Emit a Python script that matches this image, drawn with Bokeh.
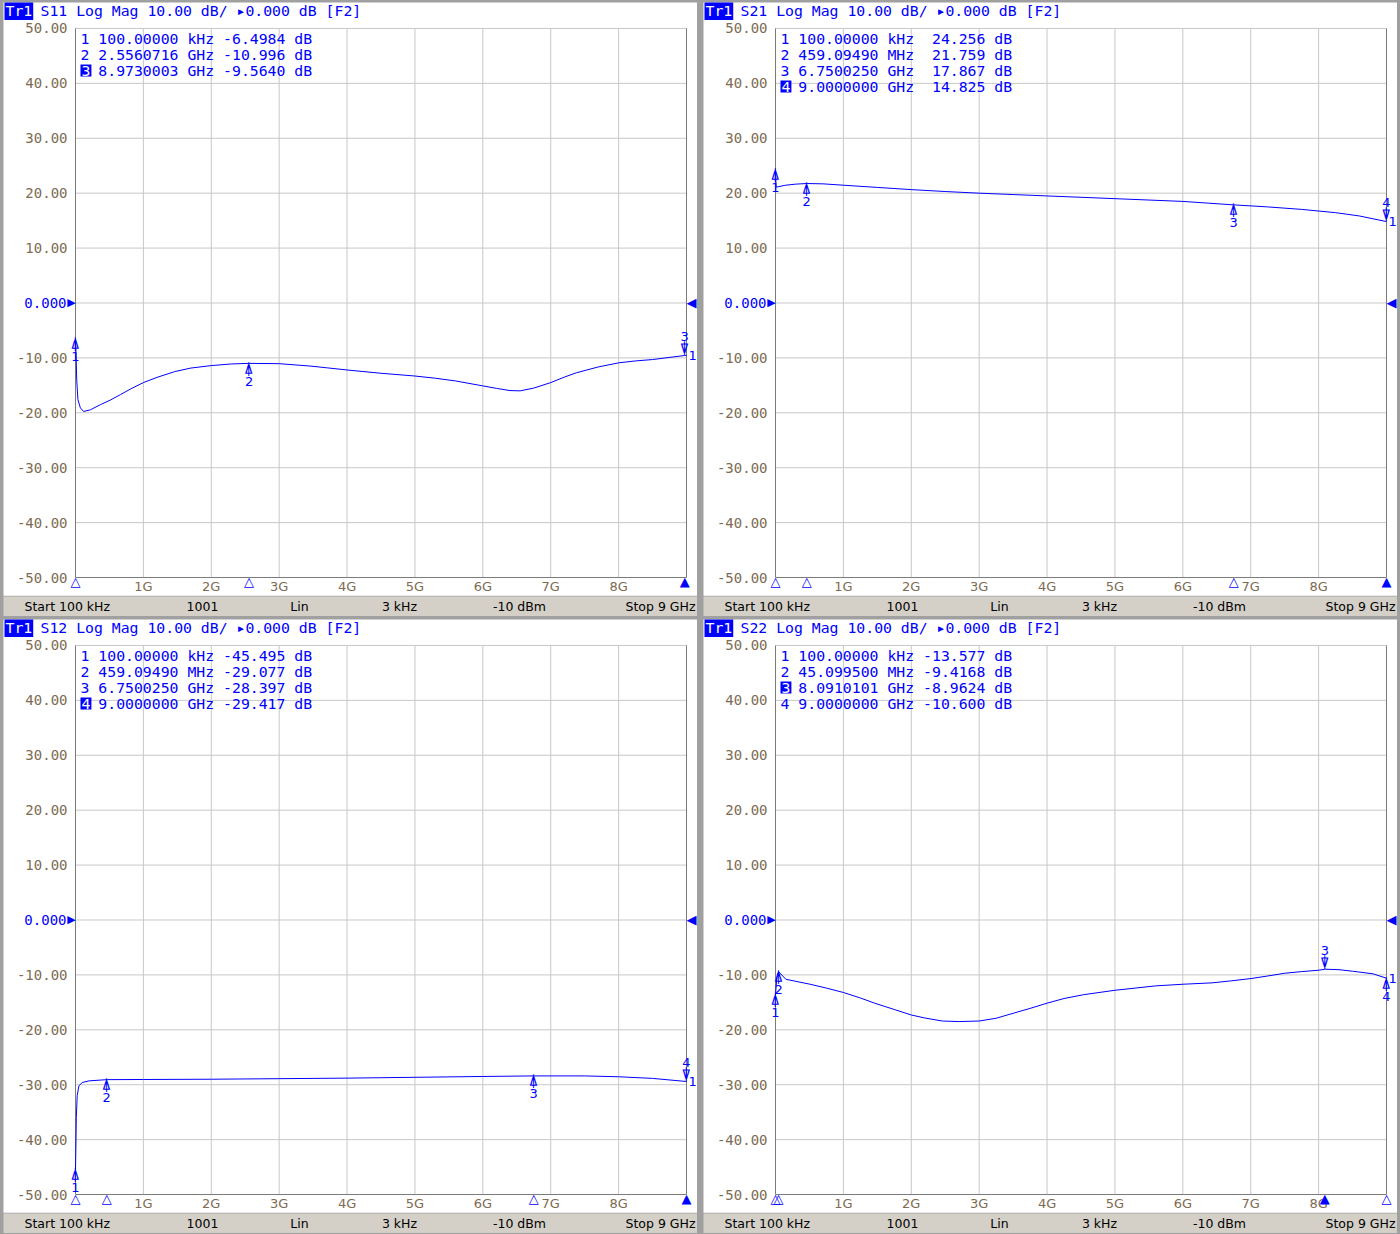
from bokeh.plotting import figure
from bokeh.models import Range1d, FixedTicker, Label, PrintfTickFormatter
from bokeh.layouts import column, row
from bokeh.core.properties import value
from bokeh.embed import file_html
from bokeh.resources import INLINE

# ---------------- data ----------------
x_ticks = [1, 2, 3, 4, 5, 6, 7, 8]
y_ticks = [-50, -40, -30, -20, -10, 0, 10, 20, 30, 40, 50]
f_start = 0.0001   # GHz (100 kHz)
f_stop = 9.0       # GHz
y_bottom, y_top = -50, 50

s11_freq = [0.0001, 0.009, 0.018, 0.036, 0.072, 0.12, 0.22, 0.37, 0.51, 0.66, 0.82, 1.0, 1.2, 1.46,
            1.7, 2.0, 2.3, 2.556, 3.0, 3.47, 3.7, 4.0, 4.5, 5.0, 5.3, 5.6, 6.0, 6.2, 6.4, 6.55, 6.75,
            7.0, 7.2, 7.38, 7.7, 8.0, 8.25, 8.5, 8.973, 9.0]
s11_db = [-6.50, -9.5, -14.0, -17.6, -19.1, -19.76, -19.45, -18.5, -17.7, -16.7, -15.6, -14.5,
          -13.55, -12.5, -11.85, -11.4, -11.1, -10.996, -11.05, -11.5, -11.8, -12.2, -12.8, -13.3,
          -13.7, -14.2, -15.1, -15.55, -15.95, -16.0, -15.5, -14.5, -13.5, -12.7, -11.65, -10.9,
          -10.55, -10.3, -9.564, -9.55]

s21_freq = [0.0001, 0.009, 0.05, 0.15, 0.3, 0.459, 0.7, 1.0, 1.5, 2.0, 2.5, 3.0, 3.5, 4.0, 4.5,
            5.0, 5.5, 6.0, 6.75, 7.25, 7.75, 8.25, 8.6, 9.0]
s21_db = [24.256, 21.1, 21.2, 21.45, 21.65, 21.759, 21.7, 21.45, 21.05, 20.65, 20.3, 20.0, 19.75,
          19.5, 19.25, 19.0, 18.75, 18.5, 17.867, 17.5, 17.05, 16.45, 15.85, 14.825]

s12_freq = [0.0001, 0.005, 0.012, 0.025, 0.05, 0.1, 0.2, 0.459, 1.0, 2.0, 3.0, 4.0, 5.0, 6.0,
            6.75, 7.5, 8.0, 8.5, 9.0]
s12_db = [-45.495, -42.0, -36.0, -32.0, -30.2, -29.6, -29.3, -29.077, -29.05, -29.0, -28.9, -28.8,
          -28.65, -28.5, -28.397, -28.4, -28.55, -28.85, -29.417]

s22_freq = [0.0001, 0.02, 0.045, 0.153, 0.51, 0.75, 1.0, 1.25, 1.46, 1.75, 2.0, 2.2, 2.46, 2.7,
            3.0, 3.25, 3.47, 3.75, 4.0, 4.25, 4.54, 5.0, 5.6, 6.0, 6.43, 6.7, 7.0, 7.25, 7.5, 7.75,
            8.0, 8.091, 8.3, 8.5, 8.8, 9.0]
s22_db = [-13.577, -10.5, -9.4168, -10.8, -11.7, -12.4, -13.2, -14.2, -15.15, -16.3, -17.3,
          -17.85, -18.4, -18.5, -18.4, -17.9, -17.1, -16.1, -15.15, -14.3, -13.6, -12.8, -12.0,
          -11.7, -11.45, -11.1, -10.67, -10.2, -9.7, -9.4, -9.15, -8.9624, -9.05, -9.33, -9.8, -10.6]

s11_mk_freq = [0.0001, 2.5560716, 8.9730003]
s11_mk_db = [-6.4984, -10.996, -9.5640]
s11_mk_ftxt = ["100.00000 kHz", "2.5560716 GHz", "8.9730003 GHz"]
s11_mk_vtxt = ["-6.4984 dB", "-10.996 dB", "-9.5640 dB"]
s11_active = 3

s21_mk_freq = [0.0001, 0.4590949, 6.750025, 9.0]
s21_mk_db = [24.256, 21.759, 17.867, 14.825]
s21_mk_ftxt = ["100.00000 kHz", "459.09490 MHz", "6.7500250 GHz", "9.0000000 GHz"]
s21_mk_vtxt = ["24.256 dB", "21.759 dB", "17.867 dB", "14.825 dB"]
s21_active = 4

s12_mk_freq = [0.0001, 0.4590949, 6.750025, 9.0]
s12_mk_db = [-45.495, -29.077, -28.397, -29.417]
s12_mk_ftxt = ["100.00000 kHz", "459.09490 MHz", "6.7500250 GHz", "9.0000000 GHz"]
s12_mk_vtxt = ["-45.495 dB", "-29.077 dB", "-28.397 dB", "-29.417 dB"]
s12_active = 4

s22_mk_freq = [0.0001, 0.0450995, 8.0910101, 9.0]
s22_mk_db = [-13.577, -9.4168, -8.9624, -10.600]
s22_mk_ftxt = ["100.00000 kHz", "45.099500 MHz", "8.0910101 GHz", "9.0000000 GHz"]
s22_mk_vtxt = ["-13.577 dB", "-9.4168 dB", "-8.9624 dB", "-10.600 dB"]
s22_active = 3

status_texts = ["Start 100 kHz", "1001", "Lin", "3 kHz", "-10 dBm", "Stop 9 GHz"]
status_x = [24, 202, 299, 399, 519, 695]
status_align = ["left", "center", "center", "center", "center", "right"]

# ---------------- style / layout ----------------
BLUE = "#0000ff"
TICK = "#7d6b52"
GRID = "#c8c8c8"
EDGE = "#7a7a7a"
BAR = "#d4d0c8"
PAGE = "#a0a0a0"
MONO = "DejaVu Sans Mono"
SANS = "DejaVu Sans"
FS = "14.8px"              # mono font size of title and marker table

# panel-local page pixel geometry
OX, OY = 3, 2              # canvas origin inside the panel
CW_, CH_ = 694, 594        # main canvas size (frame covers it all)
PL, PR, PT, PB = 75, 686, 28, 578   # plot area edges (panel-local page px)
BAR_H = 20
CW = 8.91                  # mono char width at 14.8px

px_per_x = (PR - PL) / (f_stop - f_start)
px_per_y = (PB - PT) / (y_top - y_bottom)
x_lo = f_start - (PL - OX) / px_per_x
x_hi = f_stop + (OX + CW_ - PR) / px_per_x
y_hi = y_top + (PT - OY) / px_per_y
y_lo = y_bottom - (OY + CH_ - PB) / px_per_y


def sx(px):
    return px - OX


def sy(py):
    return OY + CH_ - py


def lab(p, text, x, y, xu="screen", yu="screen", **kw):
    L = Label(x=x, y=y, x_units=xu, y_units=yu, text=text, **kw)
    p.add_layout(L)
    return L


def make_panel(name, freq, db, mk_f, mk_v, mk_ft, mk_vt, active):
    p = figure(width=CW_, height=CH_, x_range=Range1d(x_lo, x_hi), y_range=Range1d(y_lo, y_hi),
               output_backend="svg", toolbar_location=None, min_border=0,
               min_border_left=0, min_border_right=0, min_border_top=0, min_border_bottom=0,
               frame_align=False)
    p.outline_line_color = None
    p.background_fill_color = "white"
    p.border_fill_color = "white"
    p.grid.visible = False
    p.xaxis.ticker = FixedTicker(ticks=x_ticks)
    p.xaxis.formatter = PrintfTickFormatter(format="%dG")
    p.yaxis.ticker = FixedTicker(ticks=y_ticks)
    p.yaxis.formatter = PrintfTickFormatter(format="%.2f")
    p.yaxis.major_label_overrides = {0: ""}
    for ax in (p.xaxis[0], p.yaxis[0]):
        ax.axis_line_color = None
        ax.major_tick_line_color = None
        ax.major_tick_in = 0
        ax.major_tick_out = 0
        ax.minor_tick_line_color = None
        ax.major_label_text_color = TICK
    p.yaxis.major_label_text_font = MONO
    p.yaxis.major_label_text_font_size = "14px"
    p.yaxis.major_label_standoff = -(67 - OX)
    p.xaxis.major_label_text_font = SANS
    p.xaxis.major_label_text_font_size = "13px"
    p.xaxis.major_label_standoff = -(OY + CH_ - 579)

    # graticule
    p.segment(x0=x_ticks, y0=[y_bottom] * len(x_ticks), x1=x_ticks, y1=[y_top] * len(x_ticks),
              line_color=GRID, line_width=1)
    gy = y_ticks[1:]
    p.segment(x0=[f_start] * len(gy), y0=gy, x1=[f_stop] * len(gy), y1=gy,
              line_color=GRID, line_width=1)
    p.segment(x0=[f_start, f_stop, f_start], y0=[y_bottom, y_bottom, y_bottom],
              x1=[f_start, f_stop, f_stop], y1=[y_top, y_top, y_bottom],
              line_color=EDGE, line_width=1)

    # trace
    p.line(freq, db, line_color=BLUE, line_width=1)

    # title line
    lab(p, "Tr1", sx(4), sy(11), text_font=MONO, text_font_size=FS, text_color="white",
        text_baseline="middle", background_fill_color=BLUE, padding=1)
    lab(p, name + " Log Mag 10.00 dB/ \u25b80.000 dB [F2]", sx(40), sy(11), text_font=MONO,
        text_font_size=FS, text_color=BLUE, text_baseline="middle")

    # marker table
    for i in range(len(mk_f)):
        cy = 39 + 16 * i
        num = str(i + 1)
        if i + 1 == active:
            lab(p, num, sx(80), sy(cy), text_font=MONO, text_font_size=FS, text_color="white",
                text_baseline="middle", background_fill_color=BLUE, padding=1)
        else:
            lab(p, num, sx(80), sy(cy), text_font=MONO, text_font_size=FS, text_color=BLUE,
                text_baseline="middle")
        lab(p, mk_ft[i], sx(80 + 2 * CW), sy(cy), text_font=MONO, text_font_size=FS,
            text_color=BLUE, text_baseline="middle")
        lab(p, mk_vt[i], sx(80 + 26 * CW), sy(cy), text_font=MONO, text_font_size=FS,
            text_color=BLUE, text_baseline="middle", text_align="right")

    # reference level indicators
    lab(p, "0.000", f_start, 0, xu="data", yu="data", x_offset=-9, text_font=MONO,
        text_font_size="14px", text_color=BLUE, text_baseline="middle", text_align="right")
    lab(p, "\u25b6", f_start, 0, xu="data", yu="data", x_offset=-4, text_font=SANS,
        text_font_size="11px", text_color=BLUE, text_baseline="middle", text_align="center")
    lab(p, "\u25c0", f_stop, 0, xu="data", yu="data", x_offset=5, text_font=SANS,
        text_font_size="13px", text_color=BLUE, text_baseline="middle", text_align="center")

    # markers on trace and stimulus indicators
    for i in range(len(mk_f)):
        num = str(i + 1)
        is_act = (i + 1 == active)
        lab(p, "\u25b2" if is_act else "\u25b3", mk_f[i], sy(582), xu="data", yu="screen",
            text_font=SANS, text_font_size="13px", text_color=BLUE, text_baseline="middle",
            text_align="center")
        if is_act:
            lab(p, "\u2352", mk_f[i], mk_v[i], xu="data", yu="data", y_offset=7, text_font=MONO,
                text_font_size="13px", text_color=BLUE, text_baseline="middle", text_align="center")
            lab(p, num, mk_f[i], mk_v[i], xu="data", yu="data", y_offset=19, text_font=SANS,
                text_font_size="13px", text_color=BLUE, text_baseline="middle", text_align="center")
        else:
            lab(p, "\u234b", mk_f[i], mk_v[i], xu="data", yu="data", y_offset=-6, text_font=MONO,
                text_font_size="13px", text_color=BLUE, text_baseline="middle", text_align="center")
            lab(p, num, mk_f[i], mk_v[i], xu="data", yu="data", y_offset=-18, text_font=SANS,
                text_font_size="13px", text_color=BLUE, text_baseline="middle", text_align="center")
    # trace number at end of trace
    lab(p, "1", freq[-1], db[-1], xu="data", yu="data", x_offset=2, text_font=SANS,
        text_font_size="13px", text_color=BLUE, text_baseline="middle", text_align="left")
    return p


def make_bar():
    b = figure(width=CW_, height=BAR_H, x_range=Range1d(0, CW_), y_range=Range1d(0, BAR_H),
               output_backend="svg", toolbar_location=None, min_border=0,
               min_border_left=0, min_border_right=0, min_border_top=0, min_border_bottom=0,
               frame_align=False)
    b.axis.visible = False
    b.grid.visible = False
    b.outline_line_color = None
    b.background_fill_color = BAR
    b.border_fill_color = BAR
    b.text(x=[x - OX for x in status_x], y=[BAR_H - 10] * len(status_x), text=status_texts,
           text_font=value(SANS), text_font_size="12.5px", text_color="#000000",
           text_baseline="middle", text_align=status_align)
    return b


def panel(*args):
    return column(make_panel(*args), make_bar(), margin=(OY, 3, 1, OX))


p_a = panel("S11", s11_freq, s11_db, s11_mk_freq, s11_mk_db, s11_mk_ftxt, s11_mk_vtxt, s11_active)
p_b = panel("S21", s21_freq, s21_db, s21_mk_freq, s21_mk_db, s21_mk_ftxt, s21_mk_vtxt, s21_active)
p_c = panel("S12", s12_freq, s12_db, s12_mk_freq, s12_mk_db, s12_mk_ftxt, s12_mk_vtxt, s12_active)
p_d = panel("S22", s22_freq, s22_db, s22_mk_freq, s22_mk_db, s22_mk_ftxt, s22_mk_vtxt, s22_active)

layout = column(row(p_a, p_b), row(p_c, p_d), styles={"background-color": PAGE})

html = file_html(layout, INLINE, title="S-parameters")
html = html.replace("</head>", "<style>html,body{margin:0;padding:0;}</style></head>", 1)
open("out.html", "w").write(html)
